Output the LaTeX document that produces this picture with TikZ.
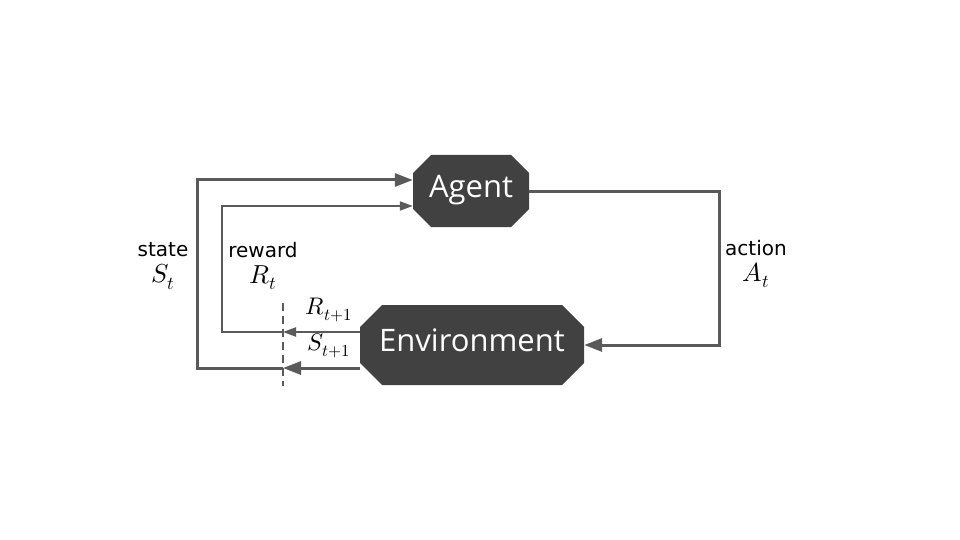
\documentclass[tikz,border=0pt]{standalone}
\usepackage{unicode-math}
\setmainfont{DejaVu Sans}
\setmathfont{Latin Modern Math}
\newfontfamily\blockfont{Open Sans}
\usetikzlibrary{shapes.misc, arrows.meta, positioning, calc}
\definecolor{blockgray}{HTML}{414141}
\definecolor{linegray}{HTML}{5A5A5A}
\tikzstyle{block} = [chamfered rectangle, chamfered rectangle xsep=9pt, chamfered rectangle ysep=9pt, inner sep=0pt, text height=20pt, text depth=8pt, fill=blockgray, draw=none, text=white, font=\blockfont\fontsize{31}{31}\selectfont]
\tikzstyle{signal} = [draw=linegray, line width=3pt, -{Triangle[length=18pt,width=13pt]}]
\tikzstyle{thinsignal} = [draw=linegray, line width=2pt, -{Triangle[length=13pt,width=9pt]}]
\tikzstyle{lbl} = [font=\fontsize{20}{26}\selectfont, align=center, inner sep=0pt]

\begin{document}
\begin{tikzpicture}[x=1pt,y=-1pt]
    \useasboundingbox (0,0) rectangle (960,540);

    \node[block, minimum width=116pt, minimum height=72pt] (agent) at (471,191) {Agent};
    \node[block, minimum width=224pt, minimum height=80pt, chamfered rectangle xsep=11pt, chamfered rectangle ysep=11pt] (env) at (472,345) {Environment};

    % time step boundary
    \coordinate (cut-top) at (283,303);
    \coordinate (cut-bot) at (283,386);
    \coordinate (cut-r) at (283,332);
    \coordinate (cut-s) at (283,368);
    \draw[linegray, line width=1.6pt, dash pattern=on 8pt off 5pt] (cut-top) -- (cut-bot);

    % environment -> boundary
    \draw[thinsignal] ([yshift=13pt]env.west) -- (cut-r);
    \draw[signal] ([yshift=-23pt]env.west) -- (cut-s);
    \node[lbl, font=\fontsize{24}{24}\selectfont] (rnext) at (329,310) {$R_{t+1}$};
    \node[lbl, font=\fontsize{24}{24}\selectfont] (snext) at (329,346) {$S_{t+1}$};

    % boundary -> agent
    \draw[signal] (cut-s) -- ++(-86,0) |- ([yshift=11pt]agent.west);
    \draw[thinsignal] (cut-r) -- ++(-61,0) |- ([yshift=-15pt]agent.west);
    \node[lbl] (state) at (163,266) {state\\{\fontsize{26}{26}\selectfont$S_t$}};
    \node[lbl] (reward) at (263,266) {reward\\{\fontsize{26}{26}\selectfont$R_t$}};

    % agent -> environment
    \draw[signal] (agent.east) -- ++(190,0) |- (env.east);
    \node[lbl] (action) at (756,264) {action\\{\fontsize{26}{26}\selectfont$A_t$}};
\end{tikzpicture}
\end{document}
